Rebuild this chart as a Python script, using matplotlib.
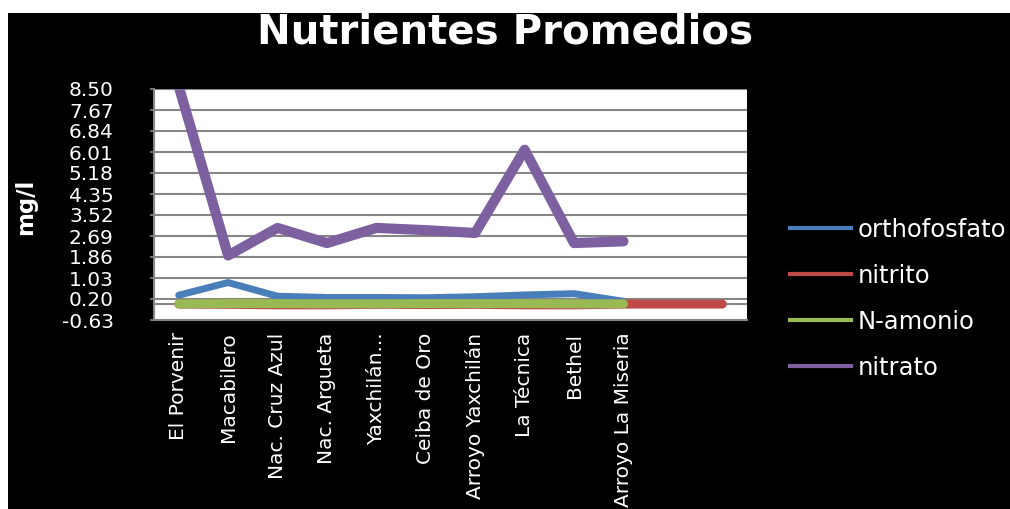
import matplotlib
matplotlib.use("Agg")
import matplotlib.pyplot as plt
from matplotlib.lines import Line2D
from matplotlib.patches import Rectangle
import numpy as np

# sitios de muestreo (las dos ultimas posiciones sin nombre)
sitios = ["El Porvenir", "Macabilero", "Nac. Cruz Azul", "Nac. Argueta",
          "Yaxchilán...", "Ceiba de Oro", "Arroyo Yaxchilán", "La Técnica",
          "Bethel", "Arroyo La Miseria", "", ""]

# promedios en mg/l
orthofosfato = [0.35, 0.85, 0.31, 0.26, 0.26, 0.25, 0.29, 0.36, 0.41, 0.11]
nitrito = [0.00, -0.01, -0.03, -0.03, -0.01, -0.02, -0.01, -0.03, -0.03, 0.00, 0.00, 0.00]
n_amonio = [0.01, 0.02, 0.02, 0.01, 0.01, 0.02, 0.02, 0.02, 0.01, 0.01]
nitrato = [8.60, 1.92, 3.01, 2.41, 3.01, 2.92, 2.81, 6.10, 2.41, 2.48]

y_ticks = [-0.63, 0.20, 1.03, 1.86, 2.69, 3.52, 4.35, 5.18, 6.01, 6.84, 7.67, 8.50]
y_labels = ["-0.63", "0.20", "1.03", "1.86", "2.69", "3.52", "4.35",
            "5.18", "6.01", "6.84", "7.67", "8.50"]

series = [
    ("orthofosfato", orthofosfato, "#4A7EBB", 5.0),
    ("nitrito", nitrito, "#BE4B48", 6.5),
    ("N-amonio", n_amonio, "#98B954", 6.5),
    ("nitrato", nitrato, "#7D60A0", 7.3),
]

W, H = 1010, 509
fig = plt.figure(figsize=(W / 100, H / 100), dpi=100, facecolor="white")
# fondo negro del grafico
fig.patches.append(Rectangle((8 / W, 0), 1, 1 - 13 / H, transform=fig.transFigure,
                             facecolor="black", edgecolor="none", zorder=-10))

ax = fig.add_axes([154 / W, 1 - 320 / H, (747 - 154) / W, (320 - 89) / H])
ax.set_facecolor("white")

x = np.arange(len(sitios))
for nombre, vals, color, lw in series:
    ax.plot(x[:len(vals)], vals, color=color, lw=lw, solid_capstyle="round",
            solid_joinstyle="round", zorder=3)

ax.set_xlim(-0.5, len(sitios) - 0.5)
ax.set_ylim(y_ticks[0], y_ticks[-1])
ax.set_yticks(y_ticks)
ax.set_yticklabels(y_labels)
ax.set_xticks(x)
ax.set_xticklabels(sitios, rotation=90, va="top", ha="center")

gris = "#868686"
for t in y_ticks[1:]:
    ax.axhline(t, color=gris, lw=1.5, zorder=1)
ax.axhline(0, color=gris, lw=1.5, zorder=1)

for lado in ["top", "right"]:
    ax.spines[lado].set_visible(False)
for lado in ["left", "bottom"]:
    ax.spines[lado].set_color(gris)
    ax.spines[lado].set_linewidth(1.5)

ax.tick_params(axis="y", colors=gris, length=3, width=1.2, pad=26,
               labelcolor="white", labelsize=14.5)
ax.tick_params(axis="x", length=0, pad=9, labelcolor="white", labelsize=14.5)

fig.text(505 / W, 1 - 32 / H, "Nutrientes Promedios", color="white",
         fontsize=29, fontweight="bold", ha="center", va="center")
fig.text(26 / W, 1 - 207 / H, "mg/l", color="white", fontsize=16.5,
         fontweight="bold", rotation=90, ha="center", va="center")

handles = [Line2D([], [], color=c, lw=3) for _, _, c, _ in series]
labels = [s[0] for s in series]
fig.legend(handles, labels, loc="upper left", bbox_to_anchor=(790 / W, 1 - 218 / H),
           frameon=False, labelcolor="white", fontsize=17.5, handlelength=2.5,
           handletextpad=0.3, labelspacing=0.9, borderpad=0, borderaxespad=0)

fig.savefig("out.png", dpi=100, facecolor="white")
